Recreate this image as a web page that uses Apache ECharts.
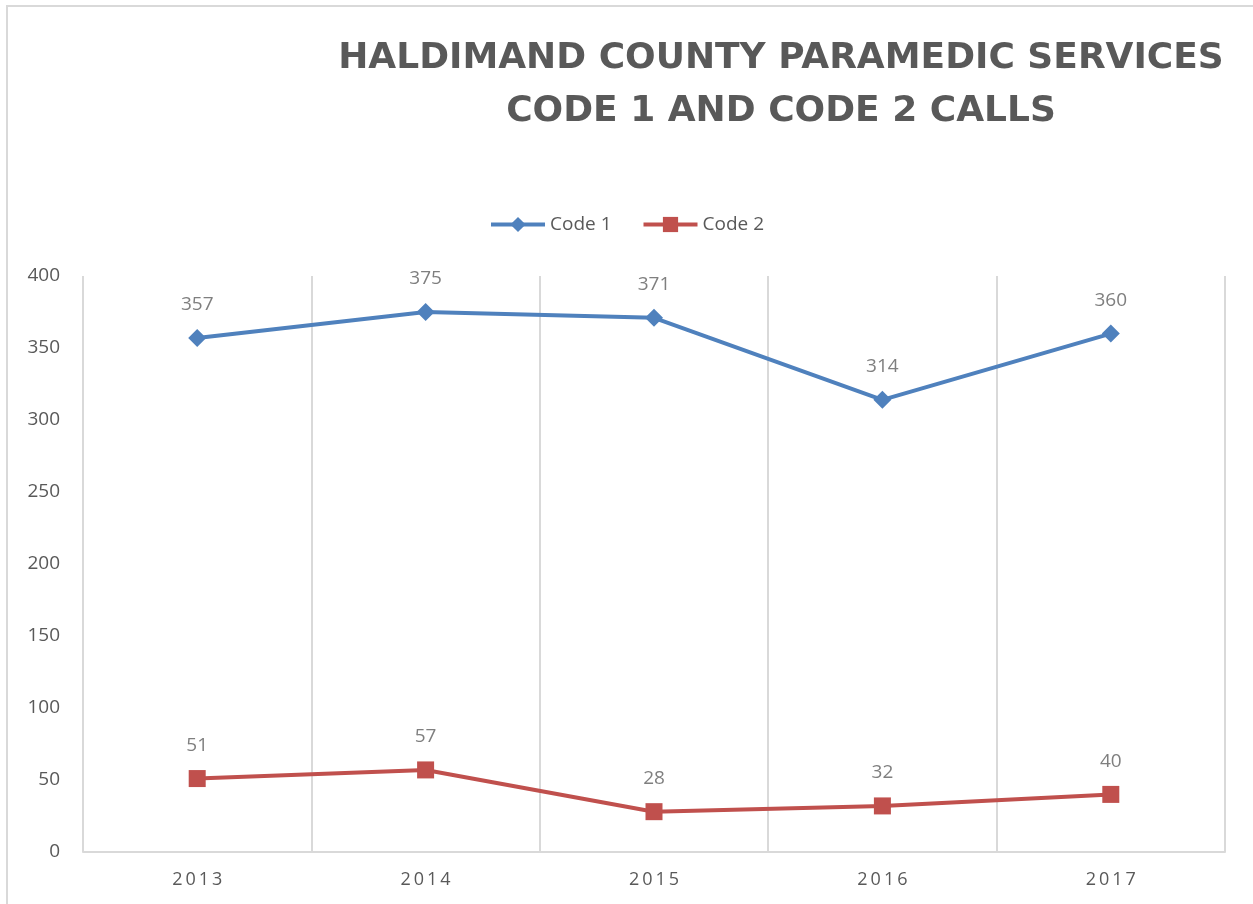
<!DOCTYPE html>
<html>
<head>
<meta charset="utf-8">
<style>
  html, body { margin: 0; padding: 0; background: #fff; }
  #chart { width: 1253px; height: 904px; }
</style>
<script src="https://cdn.jsdelivr.net/npm/echarts@6/dist/echarts.min.js"></script>
</head>
<body>
<div id="chart"></div>
<script>
var years = ['2013', '2014', '2015', '2016', '2017'];
var code1 = [357, 375, 371, 314, 360];
var code2 = [51, 57, 28, 32, 40];

var textGrey = '#595959';
var font = '"Open Sans", "Noto Sans", sans-serif';

var chart = echarts.init(document.getElementById('chart'));

function lineSeries(name, data, color, symbol, size) {
  return {
    name: name,
    type: 'line',
    data: data,
    symbol: symbol,
    symbolSize: size,
    itemStyle: { color: color },
    lineStyle: { color: color, width: 4 },
    label: {
      show: true,
      position: 'top',
      distance: 15,
      color: '#7f7f7f',
      fontFamily: font,
      fontSize: 19
    },
    animation: false
  };
}

chart.setOption({
  backgroundColor: '#fff',
  title: {
    text: 'HALDIMAND COUNTY PARAMEDIC SERVICES\nCODE 1 AND CODE 2 CALLS',
    left: 776,
    top: 27,
    textAlign: 'center',
    textStyle: {
      color: textGrey,
      fontFamily: '"DejaVu Sans", sans-serif',
      fontWeight: 'bold',
      fontSize: 36,
      lineHeight: 53
    }
  },
  legend: {
    top: 210,
    left: 'center',
    itemWidth: 54,
    itemHeight: 19,
    itemGap: 30,
    lineStyle: { width: 4 },
    textStyle: { color: textGrey, fontFamily: font, fontSize: 19 },
    data: ['Code 1', 'Code 2']
  },
  graphic: [{
    type: 'rect',
    shape: { x: 7, y: 6, width: 1300, height: 1000 },
    style: { fill: 'none', stroke: '#d9d9d9', lineWidth: 2 },
    silent: true
  }],
  grid: { left: 83, right: 28, top: 276, bottom: 52 },
  xAxis: {
    type: 'category',
    data: years,
    boundaryGap: true,
    axisLine: { lineStyle: { color: '#d9d9d9', width: 2 } },
    axisTick: { show: false },
    splitLine: { show: true, lineStyle: { color: '#d9d9d9', width: 2 } },
    axisLabel: {
      color: textGrey,
      fontFamily: font,
      fontSize: 18,
      margin: 19,
      formatter: function (v) { return v.split('').join('\u2009'); }
    }
  },
  yAxis: {
    type: 'value',
    min: 0,
    max: 400,
    interval: 50,
    axisLine: { show: false },
    axisTick: { show: false },
    splitLine: { show: false },
    axisLabel: { color: textGrey, fontFamily: font, fontSize: 19, margin: 23 }
  },
  series: [
    lineSeries('Code 1', code1, '#4f81bd', 'diamond', 18),
    lineSeries('Code 2', code2, '#c0504d', 'rect', 17)
  ]
});
</script>
</body>
</html>
